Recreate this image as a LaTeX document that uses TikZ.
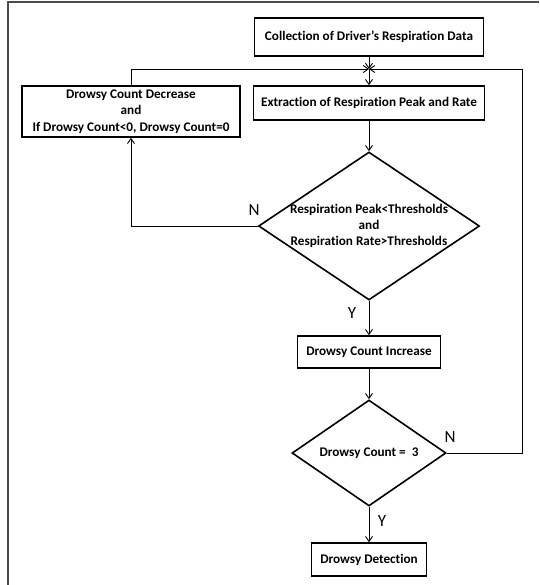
\documentclass[tikz,border=0pt]{standalone}
\usepackage{fontspec}
\setmainfont{Carlito}[Ligatures=NoCommon]
\usetikzlibrary{arrows.meta,shapes.geometric,positioning}

\begin{document}
\begin{tikzpicture}[x=1pt,y=-1pt,
  procbox/.style={draw,line width=1.6pt,inner sep=0pt,align=center,
                  font=\bfseries\fontsize{13.2}{16.5}\selectfont},
  decision/.style={draw,diamond,line width=1.6pt,inner sep=0pt},
  flow/.style={line width=0.9pt,-{Straight Barb[length=5pt,width=7pt]}},
  yn/.style={font=\fontsize{17}{17}\selectfont}]
 \useasboundingbox (0,0) rectangle (539,585);
 % page frame
 \draw[gray!60!black,line width=1.6pt] (8,585) -- (8,2) -- (539,2);
 % boxes
 \node[procbox,minimum width=229pt,minimum height=38pt] (collect) at (369,37)
   {Collection of Driver’s Respiration Data};
 \node[procbox,minimum width=231pt,minimum height=34pt] (extract) at (369,103)
   {Extraction of Respiration Peak and Rate};
 \node[procbox,minimum width=218pt,minimum height=51pt] (decrease) at (131,111.5)
   {Drowsy Count Decrease\\and\\If Drowsy Count<0, Drowsy Count=0};
 \node[decision,minimum width=221pt,minimum height=148pt,
   label={[align=center,font=\bfseries\fontsize{13.2}{16}\selectfont]center:Respiration Peak<Thresholds\\and\\Respiration Rate>Thresholds}]
   (cond1) at (369,226) {};
 \node[procbox,minimum width=143pt,minimum height=32pt] (increase) at (369,352)
   {Drowsy Count Increase};
 \node[decision,minimum width=154pt,minimum height=106pt,
   label={[font=\bfseries\fontsize{13.2}{16}\selectfont]center:Drowsy Count =\ \ 3}]
   (cond2) at (369,453) {};
 \node[procbox,minimum width=115pt,minimum height=33pt] (detect) at (369,559.5)
   {Drowsy Detection};
 \coordinate (j) at (369,69);
 \coordinate (loop) at (522,453);
 % connectors
 \draw[flow] (collect) -- (j);
 \draw[flow] (j) -- (extract);
 \draw[flow] (extract) -- (cond1);
 \draw[flow] (cond1.west) -| (decrease.south);
 \draw[flow] (decrease.north) |- (j);
 \draw[flow] (cond1.south) -- (increase);
 \draw[flow] (increase) -- (cond2);
 \draw[flow] (cond2.east) -- (loop) |- (j);
 \draw[flow] (cond2.south) -- (detect);
 % labels
 \node[yn] (n1) at (254,210) {N};
 \node[yn] (y1) at (352,313) {Y};
 \node[yn] (n2) at (450,437) {N};
 \node[yn] (y2) at (382,521) {Y};
\end{tikzpicture}
\end{document}
